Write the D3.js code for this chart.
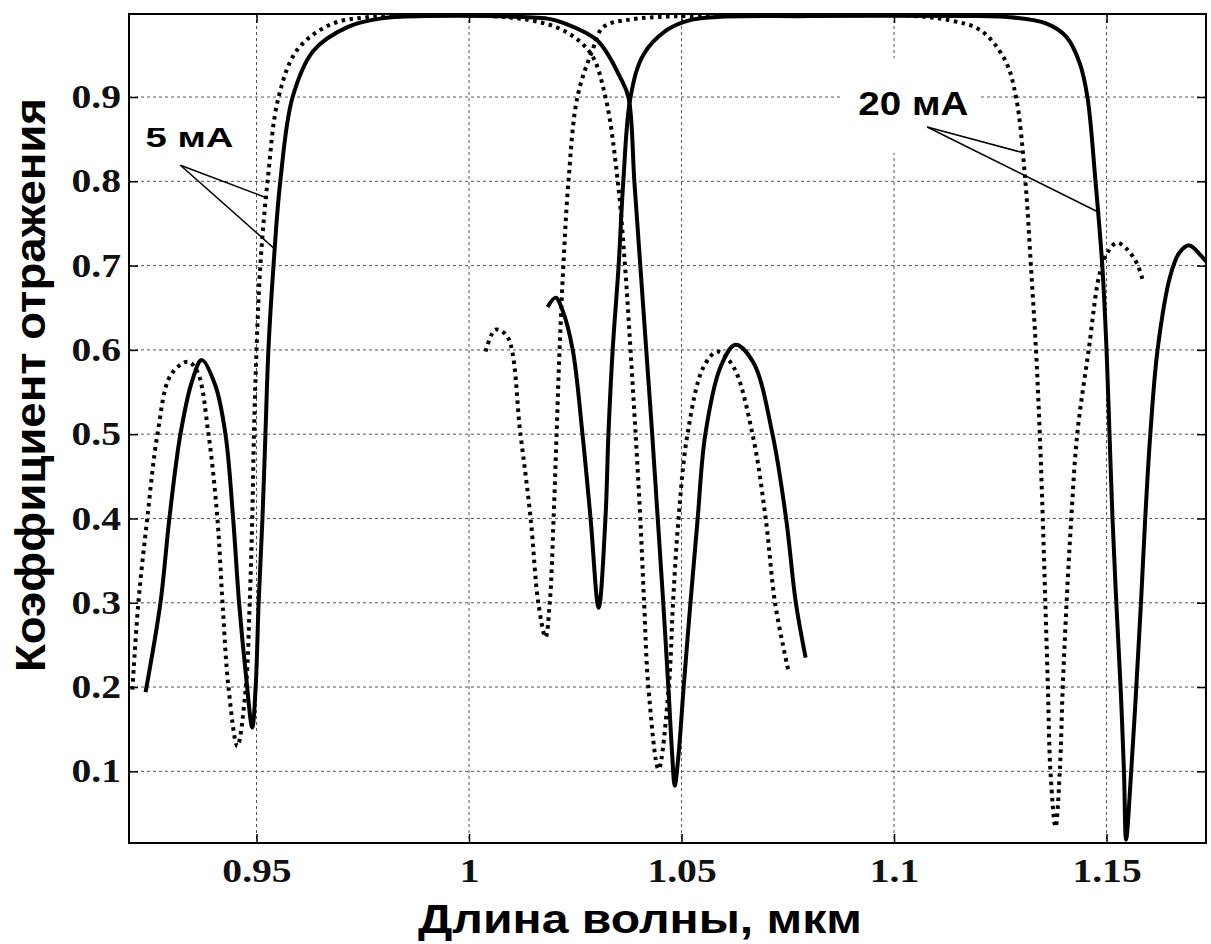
<!DOCTYPE html>
<html>
<head>
<meta charset="utf-8">
<script src="https://cdnjs.cloudflare.com/ajax/libs/d3/7.8.5/d3.min.js"></script>
<style>
	body { margin: 0; background: #fff; }
	.tick text { font-family: 'Liberation Serif', 'Times New Roman', serif; font-weight: bold; font-size: 33px; fill: #111; }
	.lbl { font-family: 'Liberation Sans', Arial, sans-serif; font-weight: bold; fill: #000; }
</style>
</head>
<body>
<div class="canvas"></div>
<script>
// wavelength (um) vs reflection coefficient
const solid5mA = [
	[0.9239, 0.194], [0.9274, 0.30], [0.9295, 0.40], [0.9321, 0.50], [0.9349, 0.564],
	[0.9371, 0.588], [0.9403, 0.558], [0.9427, 0.50], [0.9445, 0.40], [0.9459, 0.30],
	[0.9475, 0.215], [0.9490, 0.152], [0.9498, 0.20], [0.9505, 0.30], [0.9514, 0.40],
	[0.9521, 0.50], [0.9528, 0.60], [0.9540, 0.70], [0.9556, 0.80], [0.9585, 0.90],
	[0.9634, 0.955], [0.9714, 0.983], [0.9790, 0.993], [0.990, 0.996], [1.005, 0.996],
	[1.0185, 0.993], [1.0222, 0.988], [1.0302, 0.967], [1.0356, 0.923], [1.0375, 0.90],
	[1.0389, 0.80], [1.0403, 0.70], [1.0417, 0.60], [1.0431, 0.50], [1.0444, 0.40],
	[1.0457, 0.30], [1.0469, 0.20], [1.0478, 0.12], [1.0484, 0.083], [1.0493, 0.12],
	[1.0505, 0.20], [1.0521, 0.30], [1.0538, 0.40], [1.0556, 0.50], [1.0592, 0.58],
	[1.0627, 0.606], [1.0669, 0.585], [1.0714, 0.50], [1.0746, 0.40], [1.0769, 0.30],
	[1.0792, 0.235]
];

const solid20mA = [
	[1.0185, 0.651], [1.0204, 0.662], [1.0220, 0.647], [1.0244, 0.60], [1.0267, 0.50],
	[1.0286, 0.40], [1.0305, 0.294], [1.0321, 0.40], [1.0328, 0.50], [1.0338, 0.60],
	[1.0352, 0.70], [1.0363, 0.80], [1.0380, 0.90], [1.0410, 0.950], [1.0464, 0.979],
	[1.0518, 0.991], [1.0584, 0.995], [1.08, 0.996], [1.12, 0.996], [1.1267, 0.995],
	[1.1359, 0.987], [1.1406, 0.971], [1.1437, 0.94], [1.1455, 0.90], [1.1474, 0.80],
	[1.1490, 0.70], [1.1500, 0.60], [1.1507, 0.50], [1.1514, 0.40], [1.1523, 0.30],
	[1.1533, 0.20], [1.1541, 0.10], [1.1546, 0.019], [1.1558, 0.10], [1.1570, 0.20],
	[1.1581, 0.30], [1.1591, 0.40], [1.1603, 0.50], [1.1620, 0.60], [1.1650, 0.688],
	[1.1671, 0.715], [1.1695, 0.724], [1.1720, 0.713], [1.1734, 0.705]
];

const dotted5mA = [
	[0.9208, 0.197], [0.9222, 0.30], [0.9243, 0.40], [0.9267, 0.50], [0.9298, 0.570],
	[0.9338, 0.586], [0.9361, 0.574], [0.9387, 0.50], [0.9408, 0.40], [0.9420, 0.30],
	[0.9434, 0.20], [0.9455, 0.13], [0.9475, 0.20], [0.9484, 0.30], [0.9490, 0.40],
	[0.9494, 0.50], [0.9500, 0.60], [0.9509, 0.70], [0.9526, 0.80], [0.9552, 0.90],
	[0.9596, 0.956], [0.9674, 0.986], [0.9768, 0.995], [0.990, 0.997], [1.005, 0.996],
	[1.0145, 0.991], [1.0222, 0.979], [1.0286, 0.952], [1.0321, 0.90], [1.0350, 0.80],
	[1.0367, 0.70], [1.0380, 0.60], [1.0392, 0.50], [1.0403, 0.40], [1.0412, 0.30],
	[1.0422, 0.20], [1.0446, 0.1025], [1.0470, 0.20], [1.0480, 0.30], [1.0493, 0.40],
	[1.0514, 0.50], [1.0552, 0.58], [1.0585, 0.598], [1.0622, 0.58], [1.0667, 0.50],
	[1.0698, 0.40], [1.0720, 0.30], [1.0752, 0.218]
];

const dotted20mA = [
	[1.0039, 0.598], [1.0062, 0.624], [1.0090, 0.616], [1.0121, 0.50], [1.0145, 0.40],
	[1.0163, 0.30], [1.0180, 0.259], [1.0190, 0.30], [1.0199, 0.40], [1.0206, 0.50],
	[1.0213, 0.60], [1.0222, 0.70], [1.0234, 0.80], [1.0255, 0.90], [1.0290, 0.955],
	[1.0316, 0.983], [1.0380, 0.992], [1.06, 0.997], [1.1013, 0.997], [1.1131, 0.991],
	[1.1204, 0.979], [1.1261, 0.944], [1.1287, 0.90], [1.1309, 0.80], [1.1322, 0.70],
	[1.1334, 0.60], [1.1343, 0.50], [1.1350, 0.40], [1.1356, 0.30], [1.1362, 0.20],
	[1.1368, 0.10], [1.1380, 0.034], [1.1390, 0.10], [1.1397, 0.20], [1.1406, 0.30],
	[1.1417, 0.40], [1.1431, 0.50], [1.1458, 0.60], [1.1484, 0.691], [1.1503, 0.716],
	[1.1524, 0.727], [1.1547, 0.72], [1.1571, 0.703], [1.1585, 0.683]
];

// tick values
const xTicks = [0.95, 1, 1.05, 1.1, 1.15];
const yTicks = [0.1, 0.2, 0.3, 0.4, 0.5, 0.6, 0.7, 0.8, 0.9];

// annotation labels: text anchor + pointer targets, in data units
const noteText = ['5 мА', '20 мА'];
const notePos = [[0.9239, 0.8407], [1.0916, 0.8786]];
const noteFrom = [[0.9321, 0.819], [1.1078, 0.8644]];
const noteTo = [
	[[0.9526, 0.780], [0.9540, 0.721]],
	[[1.1306, 0.8336], [1.1485, 0.7624]]
];

const xLabel = 'Длина волны, мкм';
const yLabel = 'Коэффициент отражения';

const dims = {width: 1211, height: 944};
const plot = {left: 129, right: 1206, top: 14, bottom: 843};

const svg = d3.select('.canvas')
	.append('svg')
	.attr('width', dims.width)
	.attr('height', dims.height);

svg.append('rect')
	.attr('width', dims.width)
	.attr('height', dims.height)
	.attr('fill', '#fff');

const x = d3.scaleLinear()
	.domain([0.92, 1.1734])
	.range([plot.left, plot.right]);

const y = d3.scaleLinear()
	.domain([0.015, 0.9985])
	.range([plot.bottom, plot.top]);

// grid
const grid = svg.append('g')
	.attr('stroke', '#555')
	.attr('stroke-width', 1)
	.attr('stroke-dasharray', '3,3');

grid.selectAll('.vgrid')
	.data(xTicks)
	.enter()
	.append('line')
		.attr('class', 'vgrid')
		.attr('x1', d => x(d)).attr('x2', d => x(d))
		.attr('y1', plot.top).attr('y2', plot.bottom);

grid.selectAll('.hgrid')
	.data(yTicks)
	.enter()
	.append('line')
		.attr('class', 'hgrid')
		.attr('x1', plot.left).attr('x2', plot.right)
		.attr('y1', d => y(d)).attr('y2', d => y(d));

// axes with inward ticks on all four sides
const xAxis = d3.axisBottom(x).tickValues(xTicks).tickSize(-9).tickPadding(16).tickFormat(d3.format('~g'));
const yAxis = d3.axisLeft(y).tickValues(yTicks).tickSize(-9).tickPadding(8).tickFormat(d3.format('~g'));

svg.append('g')
	.attr('transform', `translate(0, ${plot.bottom})`)
	.call(xAxis);

svg.append('g')
	.attr('transform', `translate(${plot.left}, 0)`)
	.call(yAxis);

svg.append('g')
	.attr('transform', `translate(0, ${plot.top})`)
	.call(d3.axisTop(x).tickValues(xTicks).tickSize(-9).tickFormat(''));

svg.append('g')
	.attr('transform', `translate(${plot.right}, 0)`)
	.call(d3.axisRight(y).tickValues(yTicks).tickSize(-9).tickFormat(''));

svg.selectAll('.domain').remove();
svg.selectAll('.tick line').attr('stroke', '#000').attr('stroke-width', 1.5);

// widen tick labels to match the picture
svg.selectAll('.tick text')
	.each(function() {
		const len = this.getComputedTextLength();
		d3.select(this)
			.attr('textLength', len * 1.2)
			.attr('lengthAdjust', 'spacingAndGlyphs');
	});

// white box behind the 20 mA label
svg.append('rect')
	.attr('x', 842).attr('y', 58)
	.attr('width', 136).attr('height', 95)
	.attr('fill', '#fff');

// curves
svg.append('clipPath')
	.attr('id', 'clip')
	.append('rect')
		.attr('x', plot.left).attr('y', plot.top)
		.attr('width', plot.right - plot.left)
		.attr('height', plot.bottom - plot.top);

const line = d3.line()
	.x(d => x(d[0]))
	.y(d => y(d[1]))
	.curve(d3.curveCatmullRom.alpha(0.5));

const curves = svg.append('g').attr('clip-path', 'url(#clip)');

curves.selectAll('.solid')
	.data([solid5mA, solid20mA])
	.enter()
	.append('path')
		.attr('class', 'solid')
		.attr('fill', 'none')
		.attr('stroke', '#000')
		.attr('stroke-width', 4)
		.attr('stroke-linejoin', 'round')
		.attr('d', line);

curves.selectAll('.dotted')
	.data([dotted5mA, dotted20mA])
	.enter()
	.append('path')
		.attr('class', 'dotted')
		.attr('fill', 'none')
		.attr('stroke', '#000')
		.attr('stroke-width', 4)
		.attr('stroke-dasharray', '3.5,4.5')
		.attr('d', line);

// frame
svg.append('rect')
	.attr('x', plot.left).attr('y', plot.top)
	.attr('width', plot.right - plot.left)
	.attr('height', plot.bottom - plot.top)
	.attr('fill', 'none')
	.attr('stroke', '#000')
	.attr('stroke-width', 2);

// annotations
const notes = svg.append('g');

noteText.forEach((t, i) => {
	notes.append('text')
		.attr('class', 'lbl')
		.attr('x', x(notePos[i][0]))
		.attr('y', y(notePos[i][1]))
		.attr('font-size', i === 0 ? 28 : 33)
		.attr('textLength', i === 0 ? 88 : 110)
		.attr('lengthAdjust', 'spacingAndGlyphs')
		.text(t);

	noteTo[i].forEach(p => {
		notes.append('line')
			.attr('x1', x(noteFrom[i][0])).attr('y1', y(noteFrom[i][1]))
			.attr('x2', x(p[0])).attr('y2', y(p[1]))
			.attr('stroke', '#000')
			.attr('stroke-width', 1.5);
	});
});

// axis titles
svg.append('text')
	.attr('class', 'lbl')
	.attr('x', 640)
	.attr('y', 933)
	.attr('text-anchor', 'middle')
	.attr('font-size', 40)
	.attr('textLength', 444)
	.attr('lengthAdjust', 'spacingAndGlyphs')
	.text(xLabel);

svg.append('text')
	.attr('class', 'lbl')
	.attr('transform', 'translate(45, 385) rotate(-90)')
	.attr('text-anchor', 'middle')
	.attr('font-size', 42)
	.attr('textLength', 574)
	.attr('lengthAdjust', 'spacingAndGlyphs')
	.text(yLabel);
</script>
</body>
</html>
